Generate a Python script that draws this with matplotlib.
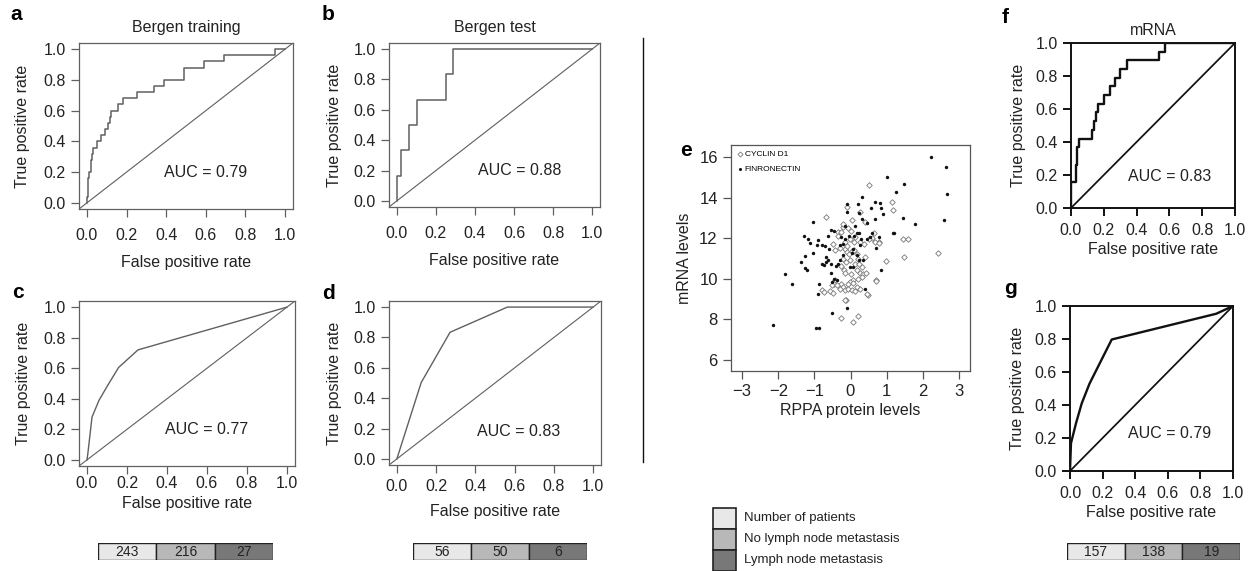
import matplotlib.pyplot as plt
import numpy as np
from matplotlib.lines import Line2D

plt.rcParams['font.family'] = ['Liberation Sans', 'DejaVu Sans']

# ---- data ----
# a: Bergen training ROC (fpr where tpr jumps, tpr after jump)
train_fpr = [0.0, 0.005, 0.01, 0.019, 0.027, 0.031, 0.051, 0.073, 0.09, 0.104,
             0.115, 0.124, 0.155, 0.183, 0.255, 0.34, 0.387, 0.489, 0.591, 0.693, 0.947]
train_tpr = [0.04, 0.16, 0.2, 0.28, 0.32, 0.36, 0.4, 0.44, 0.48, 0.52,
             0.56, 0.6, 0.64, 0.68, 0.72, 0.76, 0.8, 0.88, 0.92, 0.96, 1.0]
# b: Bergen test ROC
test_fpr = [0.0, 0.02, 0.06, 0.105, 0.25, 0.29]
test_tpr = [0.167, 0.333, 0.5, 0.667, 0.833, 1.0]
# c, d: ROC of the pathology scores
c_fpr = [0.0, 0.005, 0.025, 0.06, 0.1, 0.158, 0.255, 1.0]
c_tpr = [0.0, 0.05, 0.28, 0.39, 0.48, 0.605, 0.72, 1.0]
d_fpr = [0.0, 0.124, 0.271, 0.563, 1.0]
d_tpr = [0.0, 0.503, 0.834, 1.0, 1.0]
# f: mRNA ROC
mrna_fpr = [0.0, 0.03, 0.035, 0.05, 0.125, 0.14, 0.155, 0.165, 0.2, 0.24,
            0.27, 0.3, 0.34, 0.535, 0.575]
mrna_tpr = [3/19, 5/19, 7/19, 8/19, 9/19, 10/19, 11/19, 12/19, 13/19, 14/19,
            15/19, 16/19, 17/19, 18/19, 1.0]
# g: mRNA score ROC
g_fpr = [0.0, 0.006, 0.037, 0.072, 0.12, 0.256, 0.897, 1.0]
g_tpr = [0.0, 0.168, 0.29, 0.41, 0.53, 0.797, 0.953, 1.0]

auc_a, auc_b, auc_c, auc_d, auc_f, auc_g = 0.79, 0.88, 0.77, 0.83, 0.83, 0.79

# e: RPPA protein vs mRNA levels
fibro_x = [-1.30, -1.18, -1.13, -0.90, -0.62, -0.79, -0.92, -0.72, -1.04, -1.26,
           -1.37, -1.25, -1.20, -0.78, -0.74, -0.69, -0.62, -0.67, -0.53, -0.37,
           -0.46, -0.50, -0.86, -0.90, -0.50, -0.09, -2.14, -0.95, -0.87, -1.81,
           -1.63, 0.39, 0.85, 0.72, 1.19, -0.30, -0.22, -0.25, -0.16, -0.05,
           0.09, 0.17, 0.23, 0.29, 0.26, 0.07, 0.03, 0.17, 0.24, 0.35,
           0.07, -0.02, -0.21, -0.30, -0.34, -0.41, -0.53, 0.46, 0.54, 0.60,
           2.22, 2.65, 2.68, 2.58, 1.78, 1.46, 1.47, 1.27, 1.01, 0.91,
           1.20, 0.85, 0.82, 0.68, 0.56, 0.46, 0.67, 0.31, 0.20, 0.24,
           -0.09, -0.11, -1.04, 0.31, 0.13, -0.53, 0.78, -0.60, -0.45, -0.15]
fibro_y = [12.12, 11.96, 11.79, 11.94, 12.12, 11.69, 11.66, 11.63, 11.30, 11.12,
           10.84, 10.54, 10.43, 10.75, 10.67, 10.84, 10.95, 11.08, 10.31, 9.96,
           10.01, 9.85, 9.77, 9.24, 8.32, 8.56, 7.71, 7.59, 7.59, 10.26,
           9.77, 9.49, 10.46, 11.53, 12.24, 11.66, 11.71, 12.07, 11.96, 12.10,
           12.10, 12.27, 12.24, 11.99, 11.66, 11.49, 11.28, 11.17, 10.92, 10.92,
           10.59, 10.59, 11.17, 10.92, 10.75, 10.62, 10.75, 11.99, 12.07, 12.27,
           16.03, 15.54, 14.17, 12.91, 12.69, 12.99, 14.67, 14.26, 15.00, 13.19,
           12.25, 13.48, 13.73, 13.79, 13.48, 12.74, 12.94, 14.06, 13.70, 13.27,
           13.70, 13.32, 12.82, 12.95, 12.61, 12.41, 12.05, 11.45, 12.35, 12.60]
cyclin_x = [0.52, -0.67, 1.15, 1.19, 1.46, 1.58, 1.49, 0.99, 2.42, 0.71,
            0.48, -0.13, 0.20, 0.08, -0.26, -0.78, -0.74, -0.11, 0.27, 0.03,
            0.40, -0.20, 0.64, 0.59, 0.78, -0.34, -0.02, 0.09, 0.26, 0.37,
            0.52, 0.68, 0.80, -0.16, -0.09, -0.04, 0.03, 0.09, 0.17, -0.22,
            -0.13, -0.02, 0.12, 0.23, 0.31, 0.40, 0.21, -0.25, -0.19, -0.16,
            0.00, 0.17, 0.26, 0.35, 0.43, 0.33, 0.21, 0.07, -0.02, 0.06,
            -0.07, -0.25, -0.21, -0.30, -0.44, -0.47, -0.50, -0.37, -0.16, -0.07,
            0.03, 0.12, 0.17, 0.26, 0.47, 0.71, -0.56, -0.48, -0.14, -0.20,
            -0.06, 0.01, -0.34, -0.27, 0.12, -0.15, -0.11, -0.48, -0.43, -0.29]
cyclin_y = [14.63, 13.07, 13.78, 13.40, 11.98, 11.98, 11.06, 10.90, 11.29, 9.94,
            9.23, 8.95, 8.16, 7.88, 8.08, 9.45, 9.33, 13.53, 13.32, 12.91,
            12.82, 12.58, 12.25, 12.00, 11.84, 12.32, 11.99, 11.82, 11.82, 11.74,
            11.99, 11.82, 11.77, 11.49, 11.33, 11.25, 11.38, 11.41, 11.25, 11.00,
            10.84, 10.95, 10.75, 10.72, 10.59, 11.08, 11.00, 10.62, 10.43, 10.29,
            10.26, 10.43, 10.31, 10.26, 10.29, 10.10, 10.01, 9.96, 9.85, 9.80,
            9.77, 9.77, 9.60, 9.52, 9.93, 9.77, 9.68, 9.68, 9.47, 9.52,
            9.44, 9.39, 9.60, 9.52, 9.24, 9.90, 9.40, 9.31, 8.94, 12.70,
            12.50, 12.35, 12.10, 12.30, 12.05, 11.80, 11.60, 11.70, 11.40, 11.50]

# patient counts under c, d, g
counts_c = [243, 216, 27]
counts_d = [56, 50, 6]
counts_g = [157, 138, 19]
count_labels = ['Number of patients', 'No lymph node metastasis', 'Lymph node metastasis']
count_colors = ['#e8e8e8', '#b8b8b8', '#787878']

W, H = 1249, 571
FS = 11.5
fig = plt.figure(figsize=(W / 100, H / 100), dpi=100)


def add_ax(l, t, r, b):
    return fig.add_axes([l / W, 1 - b / H, (r - l) / W, (b - t) / H])


def step_path(fpr, tpr):
    xs, ys = [0.0], [0.0]
    for x, y in zip(fpr, tpr):
        xs += [x, x]
        ys += [ys[-1], y]
    xs.append(1.0)
    ys.append(ys[-1])
    return xs, ys


def roc_axes(ax, col, lw, tight, xpad, xlpad, ylpad):
    ticks = np.arange(0, 1.01, 0.2)
    lo, hi = (0, 1) if tight else (-0.04, 1.04)
    ax.set_xlim(lo, hi)
    ax.set_ylim(lo, hi)
    ax.set_xticks(ticks)
    ax.set_yticks(ticks)
    ax.set_xticklabels([f'{t:.1f}' for t in ticks])
    ax.set_yticklabels([f'{t:.1f}' for t in ticks])
    for s in ax.spines.values():
        s.set_color(col)
        s.set_linewidth(lw)
    ax.tick_params(direction='out', length=6, width=lw, color=col,
                   labelsize=FS, labelcolor='#222222')
    ax.tick_params(axis='x', pad=xpad)
    ax.set_xlabel('False positive rate', fontsize=FS, color='#222222', labelpad=xlpad)
    ax.set_ylabel('True positive rate', fontsize=FS, color='#222222', labelpad=ylpad)
    # reference diagonal runs corner to corner of the box
    ax.plot([lo, hi], [lo, hi], color=col, lw=lw * 0.9)


def auc_text(ax, x, y, auc):
    ax.text(x, y, f'AUC = {auc:.2f}', ha='center', va='center', fontsize=FS, color='#222222')


grey = '#606060'

# a
ax = add_ax(79, 43, 293, 209)
ax.plot(*step_path(train_fpr, train_tpr), color=grey, lw=1.1)
roc_axes(ax, grey, 0.9, False, 8, 8, 10)
ax.set_title('Bergen training', fontsize=FS, color='#222222', pad=8)
auc_text(ax, 0.6, 0.2, auc_a)

# b
ax = add_ax(389, 43, 600, 207)
ax.plot(*step_path(test_fpr, test_tpr), color=grey, lw=1.1)
roc_axes(ax, grey, 0.9, False, 8, 8, 8)
ax.set_title('Bergen test', fontsize=FS, color='#222222', pad=8)
auc_text(ax, 0.63, 0.2, auc_b)

# c
ax = add_ax(79, 301, 295, 466)
ax.plot(c_fpr, c_tpr, color=grey, lw=1.0)
roc_axes(ax, grey, 0.9, False, 1, 4, 9)
auc_text(ax, 0.6, 0.2, auc_c)

# d
ax = add_ax(389, 301, 601, 465)
ax.plot(d_fpr, d_tpr, color=grey, lw=1.0)
roc_axes(ax, grey, 0.9, False, 4, 7, 8)
auc_text(ax, 0.62, 0.18, auc_d)

# f
ax = add_ax(1071, 43, 1235, 208)
ax.plot(*step_path(mrna_fpr, mrna_tpr), color='#111111', lw=1.7)
roc_axes(ax, '#111111', 1.4, True, 5, 3, 7)
ax.set_title('mRNA', fontsize=FS, color='#222222', pad=6)
auc_text(ax, 0.6, 0.19, auc_f)

# g
ax = add_ax(1070, 306, 1233, 471)
ax.plot(g_fpr, g_tpr, color='#111111', lw=1.7)
roc_axes(ax, '#111111', 1.4, True, 5, 3, 7)
auc_text(ax, 0.61, 0.23, auc_g)

# e: scatter
ax = add_ax(731, 145, 970, 371)
ax.scatter(cyclin_x, cyclin_y, marker='D', s=8, facecolors='white',
           edgecolors='#777777', linewidths=0.6, label='CYCLIN D1', zorder=2)
ax.scatter(fibro_x, fibro_y, marker='o', s=6, color='#111111',
           linewidths=0, label='FINRONECTIN', zorder=3)
ax.set_xlim(-3.31, 3.31)
ax.set_ylim(5.46, 16.6)
ax.set_xticks(range(-3, 4))
ax.set_yticks(range(6, 17, 2))
for s in ax.spines.values():
    s.set_color('#555555')
    s.set_linewidth(0.9)
ax.tick_params(direction='out', length=6, width=0.9, color='#555555',
               labelsize=12, labelcolor='#222222')
ax.tick_params(axis='x', pad=3)
ax.set_xlabel('RPPA protein levels', fontsize=FS, color='#222222', labelpad=3)
ax.set_ylabel('mRNA levels', fontsize=FS, color='#222222', labelpad=5)
ax.legend(loc='upper left', frameon=False, fontsize=6, handletextpad=0.2,
          borderaxespad=0.25, labelspacing=0.8, markerscale=0.9, handlelength=0.8)

# patient count bars
for (l, r), counts in [((98, 273), counts_c), ((413, 587), counts_d), ((1067, 1240), counts_g)]:
    bx = add_ax(l, 543, r, 560)
    bx.barh(0, [1, 1, 1], left=[0, 1, 2], height=1, color=count_colors,
            edgecolor='#222222', linewidth=1.0)
    for i, n in enumerate(counts):
        bx.text(i + 0.5, 0, str(n), ha='center', va='center', fontsize=10, color='#222222')
    bx.set_xlim(0, 3)
    bx.set_ylim(-0.5, 0.5)
    bx.axis('off')

# count legend
lx = add_ax(713, 508, 736, 572)
lx.bar([0, 0, 0], [1, 1, 1], bottom=[2, 1, 0], width=1, color=count_colors,
       edgecolor='#222222', linewidth=1.2, clip_on=False)
for i, lab in enumerate(count_labels):
    lx.text(0.85, 2.5 - i, lab, ha='left', va='center', fontsize=9.5, color='#222222',
            clip_on=False)
lx.set_xlim(-0.5, 0.5)
lx.set_ylim(-0.05, 3)
lx.axis('off')

# divider
fig.add_artist(Line2D([643 / W, 643 / W], [1 - 38 / H, 1 - 462 / H],
                      transform=fig.transFigure, color='#111111', lw=1.0))

# panel letters
for letter, x, y in [('a', 10, 20), ('b', 322, 20), ('c', 12, 298), ('d', 322, 299),
                     ('e', 680, 156), ('f', 1002, 23), ('g', 1004, 294)]:
    fig.text(x / W, 1 - y / H, letter, fontsize=15, fontweight='bold',
             ha='left', va='baseline')

fig.savefig('out.png', dpi=100)
